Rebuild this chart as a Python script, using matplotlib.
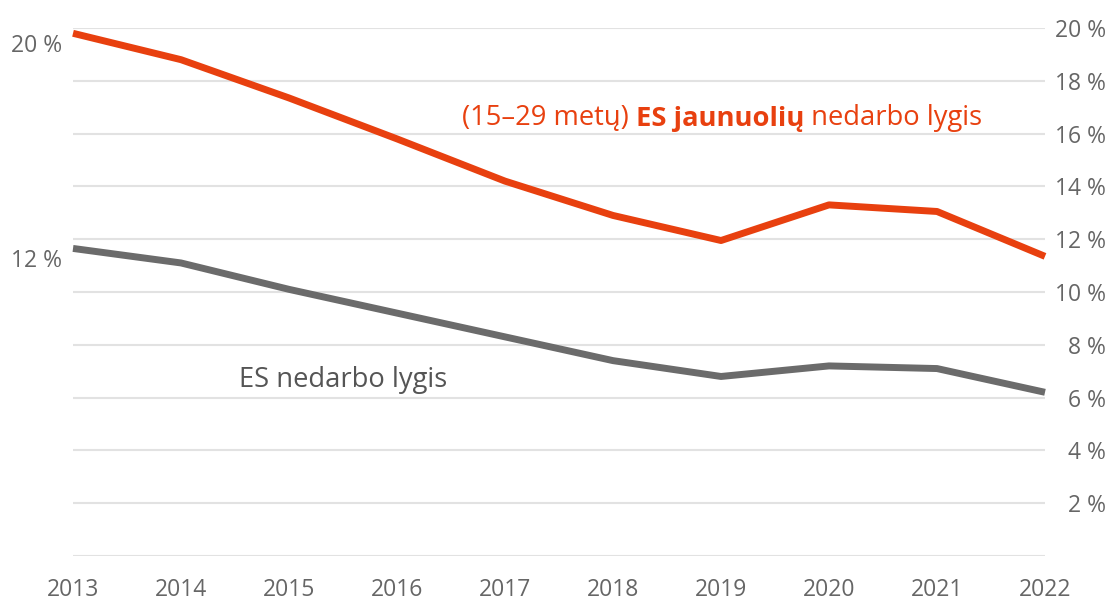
import matplotlib
matplotlib.use("Agg")
import matplotlib.pyplot as plt

ORANGE = "#E8400F"
GREY_LINE = "#6B6B6B"
TEXT = "#666666"
GRID = "#E2E2E2"

plt.rcParams.update({
    "font.family": ["Open Sans", "DejaVu Sans"],
    "font.size": 16.5,
})

years = [2013, 2014, 2015, 2016, 2017, 2018, 2019, 2020, 2021, 2022]
youth_rate = [19.8, 18.8, 17.35, 15.8, 14.2, 12.9, 11.95, 13.3, 13.05, 11.35]
total_rate = [11.65, 11.1, 10.1, 9.2, 8.3, 7.4, 6.8, 7.2, 7.1, 6.2]
right_ticks = [2, 4, 6, 8, 10, 12, 14, 16, 18, 20]
left_ticks = [12, 20]

fig = plt.figure(figsize=(11.13, 6.01), dpi=100)
ax = fig.add_axes([0.0656, 0.0749, 0.8733, 0.8785])
# left-side labels at series start (twinx resets ax ticks, so make it first)
ax2 = ax.twinx()

ax.plot(years, total_rate, color=GREY_LINE, linewidth=5, solid_capstyle="butt", clip_on=False, zorder=3)
ax.plot(years, youth_rate, color=ORANGE, linewidth=5, solid_capstyle="butt", clip_on=False, zorder=3)

ax.set_xlim(years[0], years[-1])
ax.set_ylim(0, 20)
ax.set_xticks(years)
ax.set_yticks([0] + right_ticks)
ax.set_yticklabels([""] + [f"{t} %" for t in right_ticks])
ax.yaxis.tick_right()
ax.grid(axis="y", color=GRID, linewidth=1.5)
ax.set_axisbelow(True)
for s in ax.spines.values():
    s.set_visible(False)
ax.tick_params(axis="both", length=0, colors=TEXT)
ax.tick_params(axis="x", pad=15.5)
ax.tick_params(axis="y", pad=44)
for lbl in ax.get_yticklabels():
    lbl.set_horizontalalignment("right")

ax2.set_ylim(0.91, 20.56)
ax2.set_yticks(left_ticks)
ax2.set_yticklabels([f"{t} %" for t in left_ticks])
ax2.yaxis.tick_left()
ax2.yaxis.set_label_position("left")
ax2.tick_params(axis="y", length=0, colors=TEXT, pad=8)
for s in ax2.spines.values():
    s.set_visible(False)

# series labels
t1 = ax.text(2016.60, 16.6, "(15–29 metų) ", color=ORANGE, fontsize=19.7, va="center", ha="left")
t2 = ax.annotate("ES jaunuolių", xy=(1, 0), xycoords=t1, va="bottom", ha="left",
                 color=ORANGE, fontsize=19.7, fontweight="bold")
ax.annotate(" nedarbo lygis", xy=(1, 0), xycoords=t2, va="bottom", ha="left",
            color=ORANGE, fontsize=19.7)

ax.text(2014.54, 6.65, "ES nedarbo lygis", color="#555555", fontsize=19.7, va="center", ha="left")

fig.savefig("out.png", dpi=100)
